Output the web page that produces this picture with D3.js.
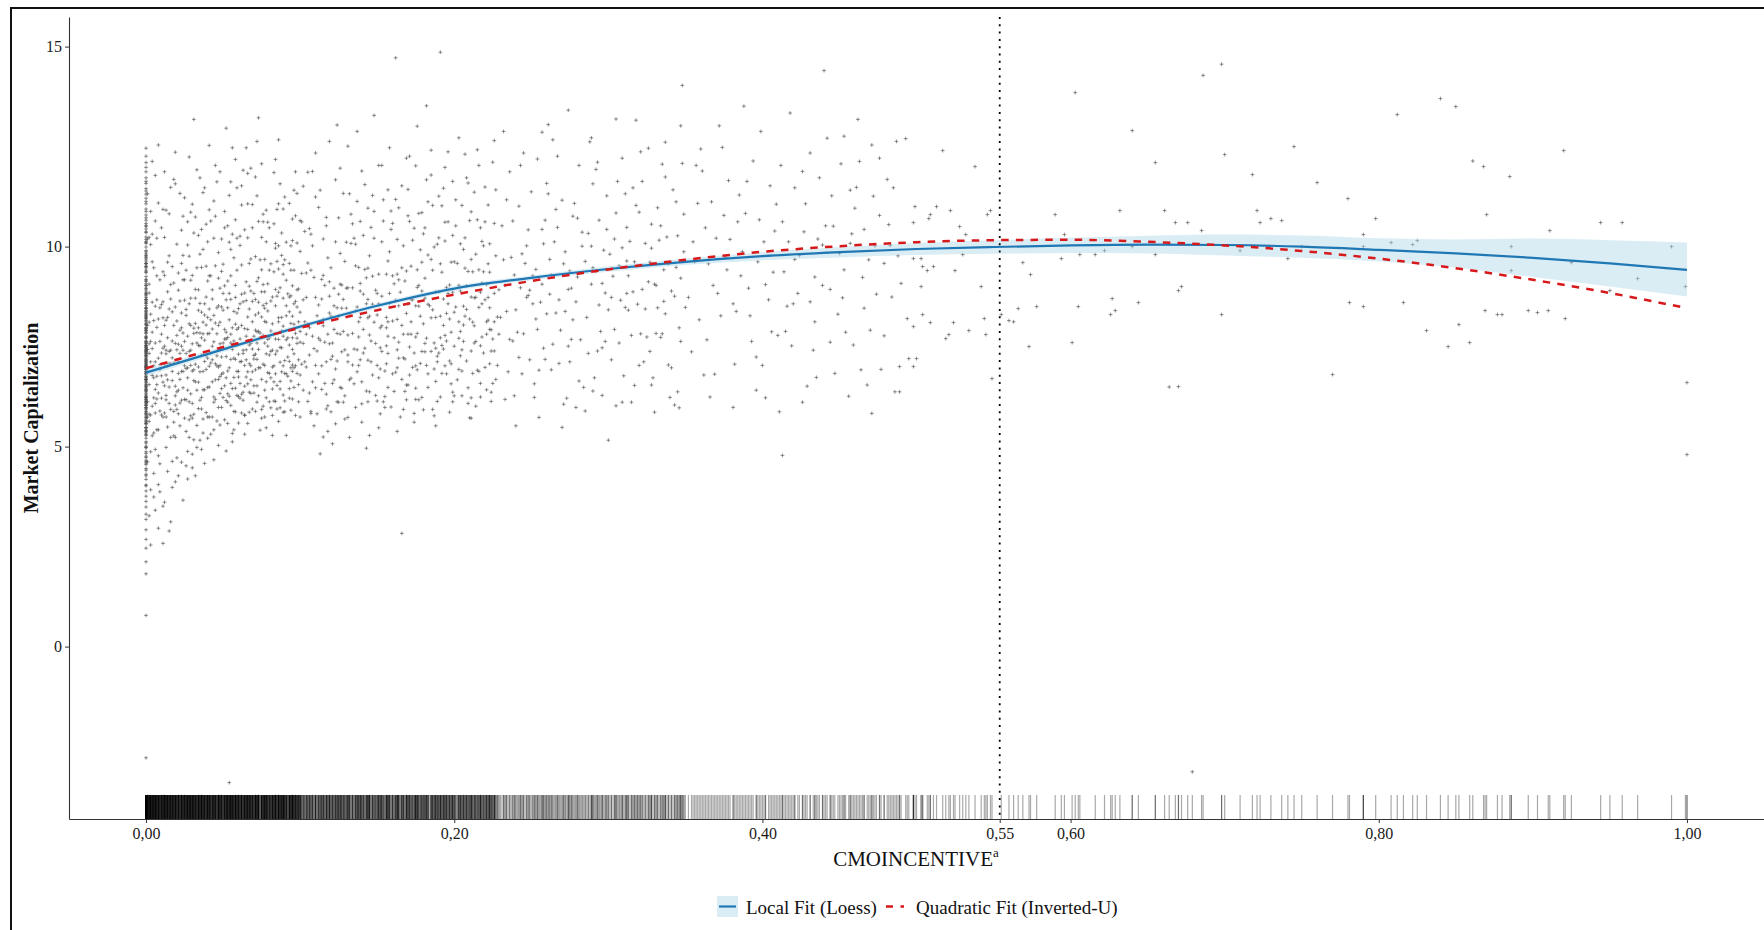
<!DOCTYPE html>
<html>
<head>
<meta charset="utf-8">
<script src="https://cdn.jsdelivr.net/npm/d3@7"></script>
<style>
  body { margin: 0; background: #fff; }
  text { font-family: "Liberation Serif", "Times New Roman", serif; }
</style>
</head>
<body>
<div id="vis-holder"></div>
<script>
// Fitted curves (x step 0.05)
const fitX = [0, 0.05, 0.10, 0.15, 0.20, 0.25, 0.30, 0.35, 0.40, 0.45, 0.50,
              0.55, 0.60, 0.65, 0.70, 0.75, 0.80, 0.85, 0.90, 0.95, 1.00];
const loessY = [6.85, 7.43, 8.00, 8.52, 8.95, 9.22, 9.44, 9.62, 9.76, 9.86, 9.94,
                9.99, 10.03, 10.05, 10.04, 10.00, 9.92, 9.83, 9.72, 9.58, 9.42];
const loessLow = [6.76, 7.36, 7.94, 8.46, 8.89, 9.16, 9.37, 9.54, 9.66, 9.73, 9.79,
                  9.82, 9.84, 9.83, 9.78, 9.72, 9.63, 9.48, 9.24, 9.00, 8.75];
const loessHigh = [6.94, 7.50, 8.06, 8.58, 9.01, 9.28, 9.51, 9.70, 9.86, 9.99, 10.09,
                   10.16, 10.22, 10.27, 10.30, 10.28, 10.21, 10.18, 10.20, 10.16, 10.10];
const quadY = [6.96, 7.49, 7.97, 8.41, 8.80, 9.14, 9.43, 9.67, 9.87, 10.01, 10.11,
               10.16, 10.17, 10.12, 10.03, 9.89, 9.70, 9.46, 9.17, 8.84, 8.46];

const turningPoint = 0.554;
const xTicks = [0, 0.2, 0.4, turningPoint, 0.6, 0.8, 1.0];
const yTicks = [0, 5, 10, 15];

// Firm observations. y in hundredths for firms with CMOINCENTIVE = 0
const zeroColumnY = [712, 845, 623, 958, 534, 687, 771, 902, 466, 1053, 598, 733, 815, 642, 1121, 389, 704, 866, 557, 925,
  681, 749, 1187, 512, 638, 792, 884, 445, 1012, 573, 669, 738, 821, 957, 603, 487, 1094, 722, 651, 783,
  349, 868, 592, 1246, 701, 836, 521, 976, 655, 748, 418, 889, 614, 1035, 763, 292, 697, 812, 548, 941,
  676, 1158, 587, 725, 853, 462, 999, 634, 774, 530, 907, 693, 1079, 611, 827, 376, 742, 958, 565, 688,
  1210, 501, 804, 646, 873, 715, 431, 1024, 582, 759, 937, 622, 246, 848, 706, 1113, 539, 668, 790, 964,
  473, 731, 597, 1050, 819, 659, 404, 882, 746, 557, 1172, 683, 916, 612, 795, 182, 728, 862, 509, 990,
  640, 776, 1066, 574, 698, 841, 455, 935, 664, 1139, 603, 752, 318, 894, 719, 547, 1008, 631, 806, 1226,
  587, 673, 950, 498, 761, 859, 625, 1088, 709, 441, 978, 652, 785, 212, 830, 569, 1145, 694, 742, 78, -278,
  735, 858, 617, 982, 547, 702, 797, 918, 483, 1037, 609, 741, 826, 661, 1107, 402, 718, 881, 562, 947,
  693, 764, 1163, 528, 649, 807, 896, 459, 1018, 582, 676, 753, 833, 972, 618, 497, 1072, 728, 667, 797,
  363, 877, 606, 1198, 714, 846, 538, 987, 668, 757, 427, 903, 627, 1044, 772, 331, 709, 823, 559, 951,
  684, 1131, 596, 737, 868, 476, 1011, 643, 789, 541, 913, 701, 1058, 622, 838, 268, 752, 969, 579, 697];

// Pairs: x in thousandths, y in hundredths (CMOINCENTIVE 0.001-0.100)
const nearZeroPts = [3,712, 7,655, 12,803, 18,588, 24,741, 31,692, 38,857, 44,624, 51,769, 58,903,
  64,578, 71,731, 77,846, 83,662, 89,955, 95,704, 99,812, 5,534, 10,621, 15,977,
  21,683, 27,488, 33,759, 40,1012, 46,702, 52,615, 57,838, 63,741, 69,1105, 75,668,
  81,789, 87,597, 93,874, 2,906, 8,477, 13,732, 19,651, 25,866, 30,571, 36,948,
  42,733, 48,554, 54,817, 60,688, 66,1022, 72,759, 78,622, 84,893, 90,715, 97,1187,
  4,601, 9,763, 14,549, 20,814, 26,695, 32,427, 37,782, 43,869, 49,645, 55,993,
  61,712, 67,586, 73,834, 79,1061, 85,739, 91,528, 96,806, 1,688, 6,851, 11,574,
  16,707, 22,1133, 28,612, 34,797, 39,693, 45,1076, 50,759, 56,533, 62,881, 68,667,
  74,784, 80,941, 86,563, 92,724, 98,1009, 3,392, 8,721, 14,887, 19,604, 24,978,
  29,741, 35,516, 41,844, 47,699, 53,632, 59,1147, 65,776, 70,652, 76,905, 82,578,
  88,823, 94,697, 100,1065, 6,608, 11,937, 17,665, 23,751, 28,523, 34,1028, 39,804,
  45,618, 51,902, 56,743, 62,584, 68,969, 73,697, 79,768, 85,1093, 90,614, 96,857,
  2,563, 7,1021, 13,679, 18,803, 23,461, 29,916, 35,752, 40,648, 46,847, 52,725,
  58,1218, 63,636, 69,812, 74,541, 80,729, 86,886, 91,682, 97,783, 4,745, 9,589,
  15,844, 20,1006, 26,617, 31,783, 37,569, 42,927, 48,811, 54,697, 60,559, 65,865,
  71,975, 77,703, 83,614, 88,789, 94,941, 99,655, 5,815, 10,677, 16,523, 21,891,
  27,1062, 32,706, 38,642, 43,794, 49,938, 55,603, 61,769, 66,1183, 72,652, 78,858,
  84,731, 89,586, 95,1015, 1,1132, 6,712, 12,584, 17,950, 22,668, 28,807, 33,553,
  39,874, 44,1114, 50,684, 55,759, 61,621, 67,901, 72,787, 78,547, 84,996, 89,702,
  95,826, 3,487, 8,634, 13,1091, 19,758, 25,571, 30,689, 36,836, 41,1253, 47,598,
  53,773, 59,688, 64,1042, 70,719, 76,601, 81,864, 87,1157, 93,645, 98,758, 2,655,
  7,798, 12,361, 18,709, 24,917, 29,632, 35,981, 41,574, 47,803, 52,867, 58,646,
  63,733, 69,594, 75,824, 81,672, 86,944, 92,772, 97,578, 4,962, 9,693, 15,608,
  20,742, 26,843, 31,1034, 37,688, 42,531, 48,757, 54,1011, 59,628, 65,717, 70,883,
  76,1062, 82,741, 87,663, 93,1108, 98,892, 5,672, 10,855, 16,741, 21,582, 27,776,
  32,893, 38,1147, 43,662, 49,724, 55,868, 60,797, 66,657, 72,1127, 77,813, 83,937,
  88,687, 94,591, 100,761, 1,574, 6,1178, 11,746, 17,837, 22,609, 27,697, 33,785,
  38,458, 44,762, 49,849, 55,1162, 60,674, 66,793, 71,588, 77,968, 82,699, 88,1034,
  93,754, 99,612, 3,831, 8,1254, 14,667, 19,523, 25,702, 30,928, 36,623, 41,701,
  47,985, 53,558, 58,806, 64,651, 70,728, 75,1207, 81,597, 86,812, 92,882, 97,1077,
  2,757, 7,542, 13,617, 18,1168, 24,647, 29,871, 34,699, 40,782, 46,564, 51,1047,
  57,721, 62,954, 68,633, 73,861, 79,685, 84,769, 90,1124, 95,743, 1,803, 5,433,
  10,1047, 15,708, 21,756, 26,538, 32,662, 37,993, 43,751, 48,1187, 54,626, 59,834,
  65,1247, 71,692, 76,778, 82,528, 87,748, 93,958, 98,683, 4,678, 9,917, 14,772,
  20,637, 25,1122, 31,581, 36,729, 42,1064, 47,668, 53,914, 58,587, 64,795, 69,687,
  75,942, 80,612, 86,1002, 91,827, 96,697, 3,1088, 8,819, 12,706, 17,463, 23,834,
  28,976, 34,595, 39,727, 45,809, 51,652, 56,1031, 62,713, 67,844, 73,627, 78,1091,
  84,682, 89,871, 95,772, 100,574, 6,759, 11,822, 16,905, 22,733, 27,641, 33,1192,
  38,766, 44,542, 50,883, 55,718, 61,1026, 67,754, 72,611, 78,732, 83,1185, 89,776,
  94,664, 2,1023, 7,619, 12,928, 18,527, 23,688, 29,1086, 34,841, 40,574, 45,952,
  51,793, 57,673, 62,1104, 68,702, 73,922, 79,839, 85,653, 90,967, 96,1141, 1,462,
  4,527, 9,387, 13,498, 21,427, 30,481, 16,312, 8,296, 26,452, 36,493, 11,258,
  56,512, 44,467, 6,341, 19,412, 64,531, 3,254, 52,1296, 31,1318, 73,1322, 86,1267, 54,-340,
  2,733, 6,584, 11,862, 15,649, 20,778, 25,917, 29,703, 34,661, 38,829, 43,574,
  47,921, 52,786, 56,645, 61,1003, 65,742, 69,863, 74,697, 78,1012, 83,781, 87,644,
  91,916, 96,732, 1,612, 5,947, 9,705, 14,823, 18,561, 23,1041, 27,672, 32,808,
  36,594, 41,783, 45,667, 50,841, 54,1128, 59,753, 63,616, 68,889, 72,718, 77,574,
  81,957, 86,822, 90,683, 95,1069, 99,894, 3,1005, 7,676, 12,751, 16,869, 21,712,
  25,618, 30,1106, 34,753, 39,585, 43,892, 48,675, 52,769, 57,972, 61,658, 66,824,
  70,776, 75,593, 79,907, 84,1008, 88,747, 93,621, 97,863, 2,811, 6,493, 10,734,
  15,1082, 19,627, 24,784, 28,857, 33,641, 37,1135, 42,709, 46,782, 51,567, 55,927,
  60,845, 64,703, 69,1047, 73,788, 78,662, 82,874, 87,711, 91,1011, 96,648, 100,836,
  4,861, 8,1109, 13,628, 17,764, 22,552, 26,941, 31,796, 35,687, 40,914, 44,1021,
  49,598, 53,847, 58,718, 62,803, 67,636, 71,1174, 76,853, 80,772, 85,594, 89,931,
  94,808, 98,1133, 3,579, 7,867, 12,1023, 16,593, 21,934, 25,763, 30,608, 34,892,
  39,1056, 43,717, 48,896, 52,672, 57,588, 61,857, 66,1107, 70,634, 75,887, 79,751,
  84,613, 88,978, 93,837, 97,702, 1,743, 5,702, 10,579, 14,961, 19,849, 23,616,
  28,738, 32,1074, 37,811, 41,649, 46,1162, 50,623, 55,781, 59,941, 64,884, 68,758,
  73,1063, 77,641, 82,807, 86,1107, 91,767, 95,902, 100,679, 4,1031, 8,542, 13,816,
  17,688, 22,864, 26,733, 31,517, 35,858, 40,721, 44,611, 49,1019, 53,689, 58,873,
  62,631, 67,958, 71,829, 76,706, 80,1047, 85,876, 89,629, 94,1002, 98,771, 2,884,
  6,643, 11,1093, 15,738, 20,593, 24,688, 29,803, 33,947, 38,713, 42,817, 47,742,
  51,1088, 56,797, 60,625, 65,912, 69,744, 74,967, 78,811, 83,1057, 87,897, 92,676,
  96,941, 3,763, 7,927, 12,652, 16,1148, 21,641, 26,828, 30,757, 35,616, 39,951,
  44,828, 48,633, 53,1052, 57,764, 62,1152, 66,687, 71,791, 75,1023, 80,683, 84,852,
  89,1094, 93,713, 98,849, 1,1019, 5,622, 10,781, 14,702, 19,1157, 23,797, 28,567,
  32,871, 37,642, 41,1092, 46,727, 50,956, 55,658, 59,793, 64,579, 68,1196, 73,743,
  77,887, 82,644, 86,768, 91,852, 95,619, 100,988, 4,786, 9,847, 13,574, 18,909,
  22,791, 27,1004, 31,665, 36,1043, 40,823, 45,707, 49,681, 54,883, 58,1067, 63,862,
  67,707, 72,913, 76,1081, 81,738, 85,963, 90,587, 94,877, 99,717, 2,581, 6,1064,
  9,457, 14,438, 20,472, 27,419, 33,498, 40,521, 47,503, 57,542, 66,558, 75,571,
  5,374, 11,351, 17,398, 24,366, 2,327, 8,405, 15,289, 30,447, 37,534, 52,489,
  4,1213, 12,1187, 19,1236, 28,1224, 35,1172, 45,1203, 56,1247, 63,1191, 72,1263, 84,1218,
  11,661, 17,722, 23,958, 29,577, 35,784, 41,927, 47,852, 53,611, 59,1021, 65,674,
  71,868, 77,759, 83,702, 89,801, 95,688, 13,741, 24,1076, 36,772, 48,703, 60,731];

// CMOINCENTIVE 0.100-0.230
const lowPts = [103,812, 109,745, 116,903, 122,667, 128,788, 135,1021, 141,734, 147,856, 154,612, 160,927,
  167,781, 173,698, 179,1085, 186,842, 192,753, 198,961, 205,689, 211,874, 218,1013, 224,792,
  106,634, 112,1098, 119,757, 125,881, 131,573, 138,812, 144,946, 150,703, 157,1142, 163,818,
  170,654, 176,898, 182,771, 189,1006, 195,682, 201,849, 208,1172, 214,763, 221,905, 227,668,
  101,933, 107,588, 114,702, 120,826, 126,1196, 133,671, 139,889, 145,528, 152,797, 158,987,
  164,721, 171,1063, 177,617, 183,856, 190,734, 196,1237, 203,812, 209,647, 216,942, 222,1104,
  104,699, 110,873, 117,631, 123,1012, 129,742, 136,598, 142,1155, 148,811, 155,689, 161,772,
  168,914, 174,583, 180,1032, 187,759, 193,869, 199,636, 206,993, 212,811, 219,734, 225,1211,
  102,1151, 108,776, 115,524, 121,658, 127,904, 134,783, 140,662, 146,1048, 153,876, 159,599,
  166,803, 172,951, 178,708, 185,1179, 191,826, 197,714, 204,889, 210,572, 217,1047, 223,847,
  105,613, 111,827, 118,972, 124,714, 130,846, 137,1113, 143,639, 149,758, 156,931, 162,686,
  169,1221, 175,774, 181,921, 188,663, 194,1014, 200,751, 207,826, 213,1136, 220,698, 226,883,
  103,1038, 109,552, 116,761, 122,896, 128,611, 135,744, 141,881, 147,679, 154,1064, 160,814,
  167,593, 173,867, 179,738, 186,941, 192,1102, 198,786, 205,627, 211,968, 218,857, 224,739,
  106,797, 112,682, 119,834, 125,1072, 131,729, 138,948, 144,612, 150,883, 157,776, 163,1018,
  170,857, 176,692, 182,1167, 189,613, 195,898, 201,1052, 208,714, 214,873, 221,642, 227,977,
  101,706, 107,941, 114,869, 120,587, 126,781, 133,1008, 139,717, 145,826, 152,694, 158,858,
  164,1097, 171,749, 177,903, 183,682, 190,1126, 196,857, 203,771, 209,938, 216,688, 222,816,
  104,873, 110,1124, 117,712, 123,557, 129,963, 136,839, 142,746, 148,1088, 155,625, 161,907,
  168,719, 174,1046, 180,807, 187,577, 193,744, 199,1163, 206,851, 212,683, 219,1002, 225,769,
  102,641, 108,1002, 115,818, 121,759, 127,646, 134,897, 140,1189, 146,712, 153,802, 159,1043,
  166,668, 172,781, 178,992, 185,738, 191,624, 197,904, 204,1007, 210,819, 217,752, 223,936,
  105,1186, 111,739, 118,602, 124,847, 130,1011, 137,687, 143,922, 149,628, 156,752, 162,1118,
  169,833, 175,646, 181,758, 188,887, 194,702, 200,962, 207,1231, 213,759, 220,867, 226,1058,
  113,482, 132,523, 151,547, 174,561, 197,586, 121,507, 143,496, 165,574, 188,552, 214,601,
  119,1263, 137,1288, 158,1247, 176,1301, 203,1272, 226,1265, 162,1472, 191,1486, 148,1328, 182,1352,
  115,928, 122,793, 128,868, 134,704, 141,1028, 147,926, 153,738, 160,682, 166,947, 172,868,
  179,623, 185,822, 191,957, 198,707, 204,788, 211,1087, 217,624, 223,793, 229,892, 106,1045,
  113,766, 119,912, 126,648, 132,832, 139,1063, 145,779, 151,931, 157,648, 164,852, 170,1143,
  176,783, 183,979, 189,712, 195,833, 202,667, 208,902, 215,1067, 221,781, 228,703, 110,703,
  117,1052, 124,612, 131,897, 137,742, 144,1096, 150,829, 156,707, 163,931, 169,654, 175,1202,
  181,871, 188,746, 194,1061, 200,627, 207,946, 213,802, 220,1149, 226,739, 112,854, 127,737, 166,283,
  100,788, 104,934, 108,662, 113,813, 117,1073, 121,726, 125,611, 130,896, 134,1057, 138,774,
  143,857, 147,1128, 151,672, 156,823, 160,1058, 164,761, 169,617, 173,1016, 177,851, 182,703,
  186,1103, 190,887, 195,764, 199,1028, 203,693, 208,843, 212,937, 216,1203, 221,812, 225,658,
  102,867, 106,729, 111,582, 115,1019, 119,876, 124,783, 128,1133, 132,667, 137,849, 141,793,
  145,977, 150,614, 154,1117, 158,883, 163,742, 167,1002, 171,679, 176,942, 180,592, 184,852,
  189,726, 193,1146, 197,819, 202,958, 206,763, 210,1065, 215,691, 219,937, 223,1007, 228,824,
  101,1062, 105,806, 110,647, 114,918, 118,781, 123,1167, 127,846, 131,712, 136,952, 140,607,
  144,822, 149,891, 153,1012, 157,733, 162,866, 166,1152, 170,781, 175,702, 179,961, 183,1112,
  188,823, 192,683, 196,883, 201,1117, 205,742, 209,608, 214,981, 218,774, 222,873, 227,1142,
  103,712, 107,1031, 112,771, 116,658, 120,947, 125,826, 129,569, 133,1081, 138,703, 142,943,
  146,764, 151,857, 155,598, 159,1089, 164,917, 168,638, 172,812, 177,1083, 181,737, 185,968,
  190,1022, 194,778, 198,657, 203,903, 207,1022, 211,739, 216,848, 220,1062, 224,613, 229,781,
  104,781, 109,923, 113,1141, 117,594, 122,852, 126,983, 131,779, 135,657, 139,908, 144,716,
  148,1021, 152,747, 157,964, 161,638, 165,886, 170,1077, 174,734, 178,826, 183,648, 187,999,
  191,772, 196,1062, 200,836, 204,727, 209,1159, 213,872, 217,658, 222,957, 226,812, 105,959,
  102,758, 108,1188, 114,643, 120,718, 126,906, 132,1132, 139,823, 145,637, 151,1203, 157,812,
  163,697, 169,939, 175,852, 181,1047, 187,694, 193,803, 199,886, 205,1103, 211,622, 217,886,
  223,707, 107,583, 118,538, 129,627, 140,561, 152,582, 163,538, 175,618, 186,593, 199,612,
  211,571, 224,636, 110,1234, 131,1251, 153,1203, 171,1226, 194,1198, 215,1242, 124,1304, 185,1241,
  115,802, 123,694, 136,1006, 144,868, 156,797, 167,722, 179,889, 192,936, 206,804, 218,909];

// CMOINCENTIVE 0.230-0.350
const midPts = [233,903, 241,786, 248,1042, 256,861, 263,692, 271,957, 278,1108, 286,823, 293,739, 301,981,
  308,866, 316,1147, 323,712, 331,903, 338,1024, 346,797, 236,1187, 244,682, 251,927, 259,1066,
  266,834, 274,751, 281,1203, 289,906, 296,628, 304,1019, 311,848, 319,952, 326,1246, 334,773,
  341,889, 349,1081, 238,764, 246,958, 253,819, 261,1132, 268,708, 276,896, 283,1001, 291,672,
  298,884, 306,1163, 313,927, 321,782, 328,1056, 336,863, 343,604, 231,1052, 239,627, 247,873,
  254,1219, 262,968, 269,791, 277,1076, 284,648, 292,938, 299,1127, 307,759, 314,1013, 322,893,
  329,672, 337,1174, 344,948, 234,838, 242,1101, 249,717, 257,906, 264,1267, 272,838, 279,598,
  287,1033, 294,854, 302,717, 309,1221, 317,962, 324,844, 332,1097, 339,704, 347,921, 237,973,
  245,1234, 252,623, 260,832, 267,1048, 275,939, 282,767, 290,1157, 297,991, 305,602, 312,883,
  320,1086, 327,961, 335,782, 342,1142, 350,848, 235,687, 243,897, 250,1137, 258,746, 265,1012,
  273,621, 280,924, 288,1262, 295,788, 303,926, 310,677, 318,1103, 325,774, 333,1016, 340,623,
  348,1208, 240,552, 255,573, 270,548, 285,589, 300,516, 315,611, 330,586, 345,637, 232,1288,
  261,1305, 289,1272, 318,1316, 347,1302, 274,1341, 305,1319, 257,1286, 312,1048, 327,738,
  230,823, 238,1064, 245,782, 253,943, 260,1158, 268,867, 275,712, 283,1036, 290,947, 298,763,
  305,1084, 313,841, 320,703, 328,996, 335,1206, 343,876, 232,967, 240,842, 247,1002, 255,691,
  262,881, 270,1116, 277,817, 285,963, 292,1193, 300,842, 307,952, 315,778, 322,1163, 330,906,
  337,832, 345,1027, 234,1117, 242,723, 249,891, 257,1043, 264,756, 272,987, 279,862, 287,733,
  294,1066, 302,873, 309,997, 317,653, 324,1008, 332,847, 339,957, 347,763, 236,768, 244,982,
  251,857, 259,718, 266,1093, 274,893, 281,664, 289,1001, 296,908, 304,793, 311,1132, 319,856,
  326,912, 334,1052, 341,697, 349,987, 233,618, 252,657, 271,606, 290,639, 309,611, 328,654,
  346,597, 243,1203, 267,1226, 293,1211, 321,1237, 337,1261, 248,878, 263,929, 280,1071, 296,747,
  312,964, 331,783, 344,1112, 239,929, 258,1007, 276,768, 299,1043, 316,887, 336,942, 254,793];

// CMOINCENTIVE 0.350-0.554
const highPts = [356,962, 363,1047, 371,883, 378,1165, 386,927, 393,763, 401,1012, 409,1106, 416,851, 424,978,
  431,1234, 439,903, 446,1051, 454,786, 461,1148, 469,967, 476,1221, 484,874, 359,817, 367,1112,
  374,1248, 382,706, 389,1083, 397,962, 404,867, 412,1203, 419,752, 427,1037, 434,924, 442,1271,
  449,831, 457,1008, 464,692, 472,1126, 479,958, 487,1263, 361,1189, 369,681, 376,973, 384,1062,
  391,896, 399,1288, 406,787, 414,937, 421,1147, 429,651, 436,1019, 444,893, 451,1207, 459,754,
  466,1043, 474,881, 481,1168, 489,637, 366,624, 381,598, 396,641, 411,587, 426,611, 413,478,
  456,626, 471,583, 486,637, 440,1440, 348,1403, 372,1302, 418,1334, 462,1318, 388,1351, 453,1276,
  499,1100, 509,1080, 513,1100, 522,1090, 498,1060, 508,1070, 528,1050, 532,1030, 546,1080, 548,1090,
  498,970, 503,970, 504,950, 507,940, 511,950, 530,980, 525,940, 503,900, 542,900, 494,820,
  504,830, 509,810, 498,800, 524,810, 521,780, 519,770, 534,790, 544,820, 545,780, 489,700,
  498,700, 495,720, 500,720, 549,670, 493,1270, 517,1240, 538,1200,
  352,873, 358,1108, 364,767, 370,1021, 377,942, 383,838, 390,1163, 396,724, 402,905, 408,1039,
  415,788, 421,968, 428,1107, 434,812, 441,1052, 447,683, 453,942, 460,1096, 466,846, 473,1002,
  479,777, 485,1147, 355,1012, 362,679, 368,903, 375,1078, 381,857, 387,987, 394,1214, 400,703,
  407,936, 413,1062, 420,857, 426,1188, 433,741, 439,1004, 445,1127, 452,872, 458,1032, 465,923,
  471,1254, 477,693, 483,1003, 490,908, 354,737, 360,1244, 373,827, 385,1129, 398,1067, 410,778,
  423,883, 437,1172, 450,983, 463,1213, 476,1078, 488,977, 357,1203, 379,1018, 392,827, 405,1152,
  417,1012, 431,862, 444,761, 457,1141, 470,791, 482,1055, 365,957, 402,622, 435,673, 468,654];

// CMOINCENTIVE above the turning point
const farPts = [555,830, 560,815, 566,845, 563,812, 573,750, 574,930, 569,960, 578,850, 590,1080, 596,1030,
  594,970, 606,980, 605,850, 601,760, 616,980, 622,990, 627,870, 626,830, 629,840, 632,1090,
  640,1000, 644,860, 655,980, 661,1090, 668,1060, 676,1060, 670,890, 672,900, 670,650, 685,1040,
  698,830, 721,1090, 723,1060, 730,1070, 737,1065, 741,970, 790,1030, 798,1070, 790,1000, 808,1010,
  822,1005, 825,1015, 781,860, 790,850, 816,860, 831,790, 845,750, 852,805, 859,760, 870,1080,
  886,1000, 886,940, 869,840, 877,830, 880,830, 897,840, 903,835, 910,840, 921,820, 911,1040,
  925,960, 958,1060, 968,920, 999,900, 1000,660, 1000,480, 603,1385, 686,1428, 698,1456, 812,1330,
  840,1370, 850,1350, 861,1214, 868,1200, 885,1175, 920,1240, 944,1060, 655,1210, 718,1180, 745,1250,
  760,1160, 780,1120, 679,-313, 664,649, 700,1230, 640,1290, 710,990, 750,1000, 770,680, 950,890, 990,1000];

// Layout
const W = 1764, H = 930;
const plot = { left: 69, right: 1764, top: 17, bottom: 819 };

const svg = d3.select("#vis-holder")
  .append("svg")
  .attr("width", W)
  .attr("height", H)
  .style("display", "block")
  .style("background", "#fff");

// outer frame (cut off at right and bottom like the picture)
svg.append("rect")
  .attr("x", 11).attr("y", 8)
  .attr("width", 1800).attr("height", 1000)
  .attr("fill", "none")
  .attr("stroke", "#111")
  .attr("stroke-width", 2);

const x = d3.scaleLinear().domain([-0.05, 1.05]).range([plot.left, plot.right]);
const y = d3.scaleLinear().domain([-4.31, 15.74]).range([plot.bottom, plot.top]);

// collect all observations
let obs = zeroColumnY.map(v => ({ x: 0, y: v / 100 }));
[nearZeroPts, lowPts, midPts, highPts, farPts].forEach(arr => {
  for (let i = 0; i < arr.length; i += 2) {
    obs.push({ x: arr[i] / 1000, y: arr[i + 1] / 100 });
  }
});

// points drawn as small plus signs
svg.append("g")
  .selectAll("path")
  .data(obs)
  .enter()
  .append("path")
    .attr("transform", d => `translate(${x(d.x)},${y(d.y)})`)
    .attr("d", "M-1.9,0H1.9M0,-1.9V1.9")
    .attr("stroke", "#4a4a4a")
    .attr("stroke-opacity", 0.6)
    .attr("stroke-width", 1)
    .attr("fill", "none");

// rug along the x axis
const rugLen = 0.03 * (plot.bottom - plot.top);
svg.append("g")
  .selectAll("line")
  .data(obs)
  .enter()
  .append("line")
    .attr("x1", d => x(d.x)).attr("x2", d => x(d.x))
    .attr("y1", plot.bottom - rugLen).attr("y2", plot.bottom)
    .attr("stroke", "#000")
    .attr("stroke-opacity", 0.34)
    .attr("stroke-width", 1.2);

// loess ribbon + line
const fit = fitX.map((v, i) => ({ x: v, lo: loessLow[i], hi: loessHigh[i], m: loessY[i], q: quadY[i] }));

svg.append("path")
  .datum(fit)
  .attr("d", d3.area()
    .x(d => x(d.x))
    .y0(d => y(d.lo))
    .y1(d => y(d.hi))
    .curve(d3.curveMonotoneX))
  .attr("fill", "#add8e6")
  .attr("fill-opacity", 0.45);

svg.append("path")
  .datum(fit)
  .attr("d", d3.line().x(d => x(d.x)).y(d => y(d.m)).curve(d3.curveMonotoneX))
  .attr("fill", "none")
  .attr("stroke", "#1f77b4")
  .attr("stroke-width", 2.2);

svg.append("path")
  .datum(fit)
  .attr("d", d3.line().x(d => x(d.x)).y(d => y(d.q)).curve(d3.curveMonotoneX))
  .attr("fill", "none")
  .attr("stroke", "#d7191c")
  .attr("stroke-width", 2.5)
  .attr("stroke-dasharray", "7.5,7.2");

// turning point
svg.append("line")
  .attr("x1", x(turningPoint)).attr("x2", x(turningPoint))
  .attr("y1", plot.top).attr("y2", plot.bottom)
  .attr("stroke", "#000")
  .attr("stroke-width", 1.8)
  .attr("stroke-dasharray", "2,5.3");

// axes
const fmt = d => d3.format(".2f")(d).replace(".", ",");

const xAxis = svg.append("g")
  .attr("transform", `translate(0,${plot.bottom})`)
  .call(d3.axisBottom(x).tickValues(xTicks).tickFormat(fmt).tickSize(4).tickPadding(5).tickSizeOuter(0));

const yAxis = svg.append("g")
  .attr("transform", `translate(${plot.left},0)`)
  .call(d3.axisLeft(y).tickValues(yTicks).tickSize(4).tickPadding(3).tickSizeOuter(0));

[xAxis, yAxis].forEach(g => {
  g.attr("font-family", null);
  g.select(".domain").attr("stroke", "#333").attr("stroke-width", 1.1);
  g.selectAll(".tick line").attr("stroke", "#333");
  g.selectAll(".tick text")
    .attr("fill", "#1a1a1a")
    .style("font-family", '"Liberation Serif", serif')
    .style("font-size", "16px");
});

// axis titles
const xTitle = svg.append("text")
  .attr("x", 916).attr("y", 866)
  .attr("text-anchor", "middle")
  .attr("fill", "#111")
  .style("font-size", "21px");
xTitle.append("tspan").text("CMOINCENTIVE");
xTitle.append("tspan").attr("dy", -9).style("font-size", "13px").text("a");

svg.append("text")
  .attr("transform", "translate(38,418) rotate(-90)")
  .attr("text-anchor", "middle")
  .attr("fill", "#111")
  .style("font-size", "20px")
  .style("font-weight", "bold")
  .text("Market Capitalization");

// legend
const legend = svg.append("g");
legend.append("rect")
  .attr("x", 717).attr("y", 896).attr("width", 21).attr("height", 21)
  .attr("fill", "#add8e6").attr("fill-opacity", 0.45);
legend.append("line")
  .attr("x1", 719).attr("x2", 736).attr("y1", 906.5).attr("y2", 906.5)
  .attr("stroke", "#1f77b4").attr("stroke-width", 2.2);
legend.append("text")
  .attr("x", 746).attr("y", 914)
  .attr("fill", "#111")
  .style("font-size", "19px")
  .text("Local Fit (Loess)");
legend.append("line")
  .attr("x1", 886).attr("x2", 904).attr("y1", 906.5).attr("y2", 906.5)
  .attr("stroke", "#d7191c").attr("stroke-width", 2.5)
  .attr("stroke-dasharray", "7,7.5");
legend.append("text")
  .attr("x", 916).attr("y", 914)
  .attr("fill", "#111")
  .style("font-size", "19px")
  .text("Quadratic Fit (Inverted-U)");
</script>
</body>
</html>
